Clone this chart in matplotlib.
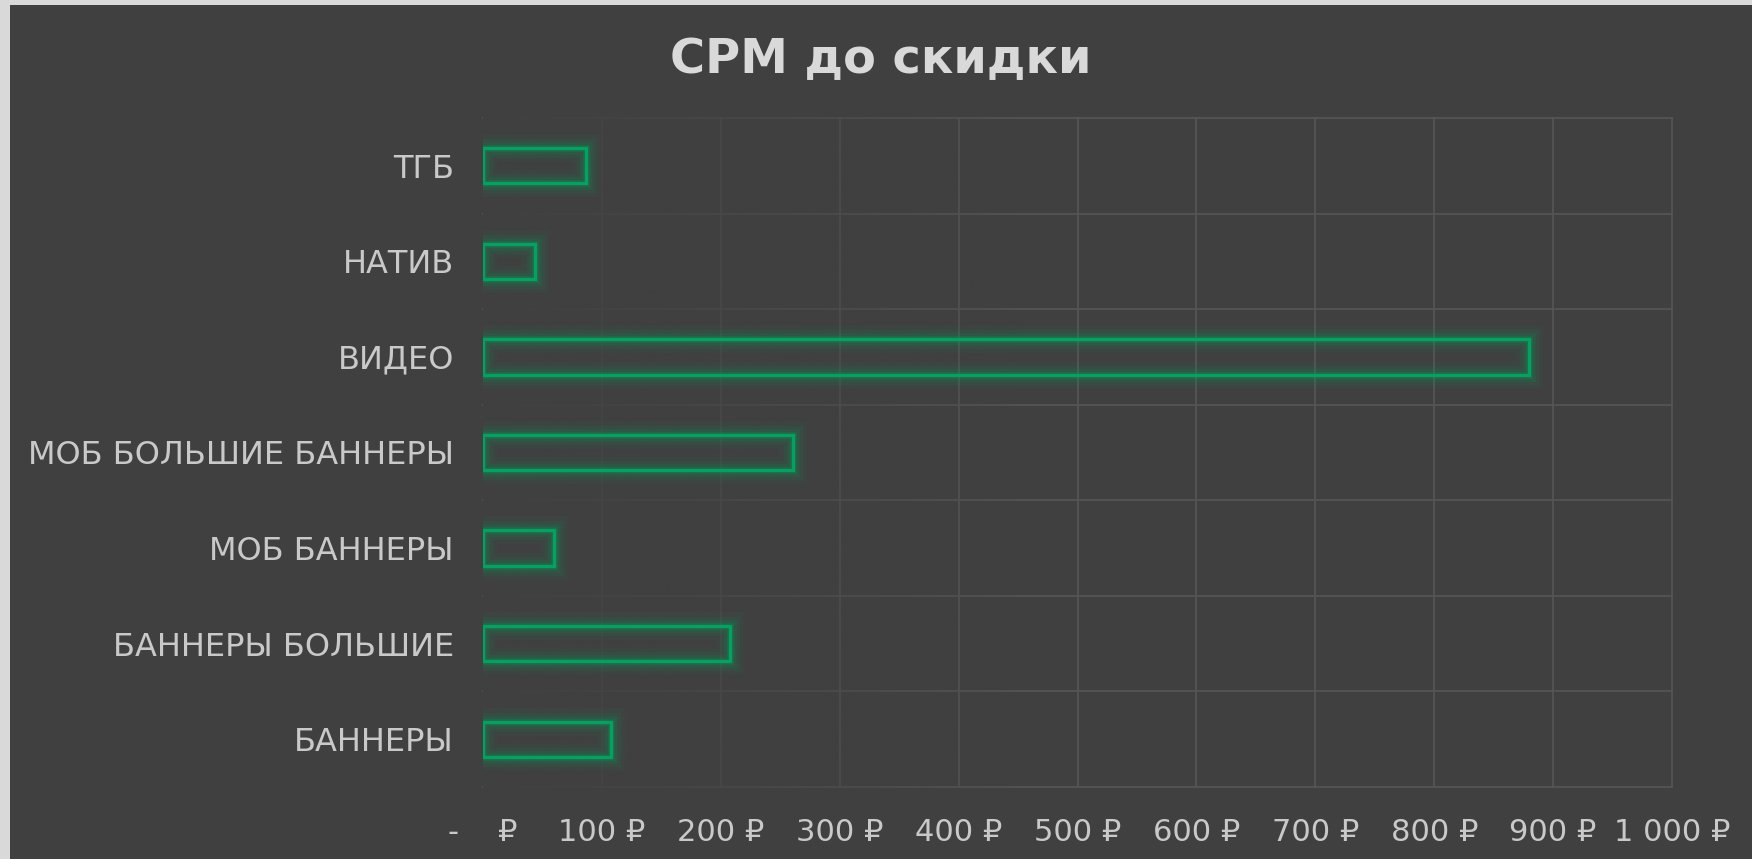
import matplotlib
matplotlib.use("Agg")
import matplotlib.pyplot as plt
import matplotlib.patheffects as pe
from matplotlib.patches import Rectangle
import numpy as np

categories = ["БАННЕРЫ", "БАННЕРЫ БОЛЬШИЕ", "МОБ БАННЕРЫ", "МОБ БОЛЬШИЕ БАННЕРЫ",
              "ВИДЕО", "НАТИВ", "ТГБ"]
values = [108, 208, 60, 261, 880, 44, 87]
xticks = [0, 100, 200, 300, 400, 500, 600, 700, 800, 900, 1000]
xticklabels = ["-    ₽", "100 ₽", "200 ₽", "300 ₽", "400 ₽", "500 ₽", "600 ₽",
               "700 ₽", "800 ₽", "900 ₽", "1 000 ₽"]
title = "СРМ до скидки"

BG = "#404040"
GREEN = "#00a35f"
TXT = "#c9c9c9"

W, H = 1752, 859
fig = plt.figure(figsize=(W / 100, H / 100), dpi=100)
fig.patch.set_facecolor("#d9d9d9")
fig.patches.append(Rectangle((10 / W, 0), 1, 1 - 5 / H, transform=fig.transFigure,
                             facecolor=BG, edgecolor="none", zorder=-5))

left, right, top, bottom = 483, 1672, 118, 787
ax = fig.add_axes([left / W, 1 - bottom / H, (right - left) / W, (bottom - top) / H])
ax.set_zorder(3)
ax.set_facecolor(BG)
ax.patch.set_alpha(0)
n = len(categories)

# gridlines
for xv in xticks[1:]:
    ax.plot([xv, xv], [-0.5, n - 0.5], color="#555555", lw=1.3, zorder=1, clip_on=False)
for k in range(n + 1):
    ax.plot([0, 1000], [k - 0.5, k - 0.5], color="#555555", lw=1.3, zorder=1, clip_on=False)

# fade of gridlines to the left
grad = np.zeros((2, 256, 4))
col = matplotlib.colors.to_rgb(BG)
grad[..., 0], grad[..., 1], grad[..., 2] = col
alpha = np.clip(1 - np.linspace(0, 1, 256) / 0.45, 0, 1) ** 0.8
grad[..., 3] = alpha
ax.imshow(grad, extent=[0, 1000, -0.55, n - 0.45], aspect="auto", zorder=2,
          interpolation="bilinear", origin="lower", clip_on=False)

bars = ax.barh(range(n), values, height=0.37, facecolor="none", edgecolor=GREEN,
               linewidth=2.4, zorder=3)
glow = [pe.Stroke(linewidth=20, foreground=GREEN, alpha=0.05),
        pe.Stroke(linewidth=14, foreground=GREEN, alpha=0.08),
        pe.Stroke(linewidth=9, foreground=GREEN, alpha=0.13),
        pe.Stroke(linewidth=5, foreground=GREEN, alpha=0.2),
        pe.Normal()]
for b in bars:
    b.set_path_effects(glow)

ax.set_xlim(0, 1000)
ax.set_ylim(-0.5, n - 0.5)
ax.set_yticks(range(n))
ax.set_yticklabels(categories, fontsize=23, color=TXT)
ax.set_xticks(xticks)
ax.set_xticklabels(xticklabels, fontsize=22, color=TXT)
ax.tick_params(axis="y", length=0, pad=21)
ax.tick_params(axis="x", length=0, pad=22)
for s in ax.spines.values():
    s.set_visible(False)

fig.text(0.5 * (10 + W) / W, 1 - 60 / H, title, ha="center", va="center",
         fontsize=34.5, fontweight="bold", color="#d9d9d9")

fig.savefig("out.png", dpi=100, facecolor=fig.get_facecolor())
